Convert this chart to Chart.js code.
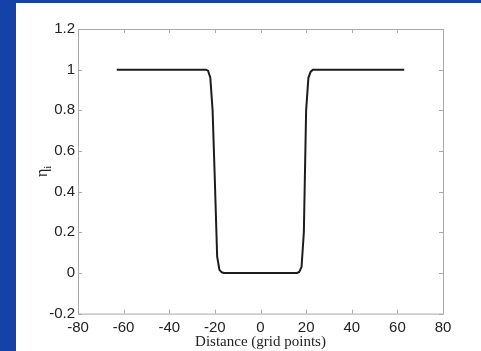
<!DOCTYPE html>
<html>
<head>
<meta charset="utf-8">
<script src="https://cdn.jsdelivr.net/npm/chart.js@4"></script>
<style>
  html, body { margin: 0; padding: 0; background: #1442a8; overflow: hidden; }
  #box { position: absolute; left: 16px; top: 3px; width: 465px; height: 348px; background: #ffffff; }
</style>
</head>
<body>
<div id="box"><canvas id="graphId" width="465" height="348"></canvas></div>
<script>
// data
var distance = [-63, -24, -23, -22, -21, -20, -19, -18, -17, -16, 16, 17, 18, 19, 20, 21, 22, 23, 24, 63];
var eta = [1, 1, 0.995, 0.96, 0.8, 0.45, 0.08, 0.015, 0.003, 0, 0, 0.005, 0.03, 0.2, 0.8, 0.96, 0.99, 1, 1, 1];
var xTicks = [-80, -60, -40, -20, 0, 20, 40, 60, 80];
var yTicks = [-0.2, 0, 0.2, 0.4, 0.6, 0.8, 1, 1.2];

var points = [];
for (var i = 0; i < distance.length; i++) {
  points.push({ x: distance[i], y: eta[i] });
}

// box + inward ticks on all four sides, plus the eta_i label
var frame = {
  id: 'frame',
  afterDraw: function (chart) {
    var c = chart.ctx;
    var a = chart.chartArea;
    var sx = chart.scales.x, sy = chart.scales.y;
    c.save();
    c.strokeStyle = '#a9a9a9';
    c.lineWidth = 1;
    c.strokeRect(a.left + 0.5, a.top + 0.5, a.right - a.left, a.bottom - a.top);
    c.beginPath();
    xTicks.forEach(function (v) {
      var px = Math.round(sx.getPixelForValue(v)) + 0.5;
      c.moveTo(px, a.bottom); c.lineTo(px, a.bottom - 4);
      c.moveTo(px, a.top); c.lineTo(px, a.top + 4);
    });
    yTicks.forEach(function (v) {
      var py = Math.round(sy.getPixelForValue(v)) + 0.5;
      c.moveTo(a.left, py); c.lineTo(a.left + 4, py);
      c.moveTo(a.right, py); c.lineTo(a.right - 4, py);
    });
    c.stroke();

    // y label: eta with subscript i
    c.translate(31, (a.top + a.bottom) / 2);
    c.rotate(-Math.PI / 2);
    c.fillStyle = '#222';
    c.textBaseline = 'alphabetic';
    c.textAlign = 'left';
    c.font = '16px "Liberation Serif"';
    var w = c.measureText('η').width;
    c.font = '11px "Liberation Serif"';
    var w2 = c.measureText('i').width;
    var x0 = -(w + w2) / 2;
    c.font = '16px "Liberation Serif"';
    c.fillText('η', x0, 0);
    c.font = '11px "Liberation Serif"';
    c.fillText('i', x0 + w, 4);
    c.restore();
  }
};

function plain(v) {
  return String(Math.round(v * 10) / 10);
}

var ctx = document.getElementById('graphId').getContext('2d');
var myChart = new Chart(ctx, {
  type: 'line',
  data: {
    datasets: [{
      data: points,
      borderColor: '#1c1c1c',
      borderWidth: 2,
      pointRadius: 0,
      tension: 0,
      fill: false
    }]
  },
  options: {
    responsive: false,
    animation: false,
    layout: { padding: { top: 26, right: 38, left: 0, bottom: 0 } },
    plugins: { legend: { display: false }, tooltip: { enabled: false } },
    scales: {
      x: {
        type: 'linear',
        min: -80, max: 80,
        afterFit: function (s) { s.height = 37.4; },
        afterBuildTicks: function (s) { s.ticks = xTicks.map(function (v) { return { value: v }; }); },
        grid: { display: false, drawTicks: false },
        border: { display: false },
        ticks: { color: '#222', padding: 5, callback: plain, font: { family: '"Liberation Sans"', size: 15 } },
        title: {
          display: true,
          text: 'Distance (grid points)',
          color: '#222',
          padding: { top: 0, bottom: 0 },
          font: { family: '"Liberation Serif"', size: 15 }
        }
      },
      y: {
        min: -0.2, max: 1.2,
        afterFit: function (s) { s.width = 62; },
        afterBuildTicks: function (s) { s.ticks = yTicks.map(function (v) { return { value: v }; }); },
        grid: { display: false, drawTicks: false },
        border: { display: false },
        ticks: { color: '#222', padding: 3, callback: plain, font: { family: '"Liberation Sans"', size: 15 } }
      }
    }
  },
  plugins: [frame]
});
</script>
</body>
</html>
